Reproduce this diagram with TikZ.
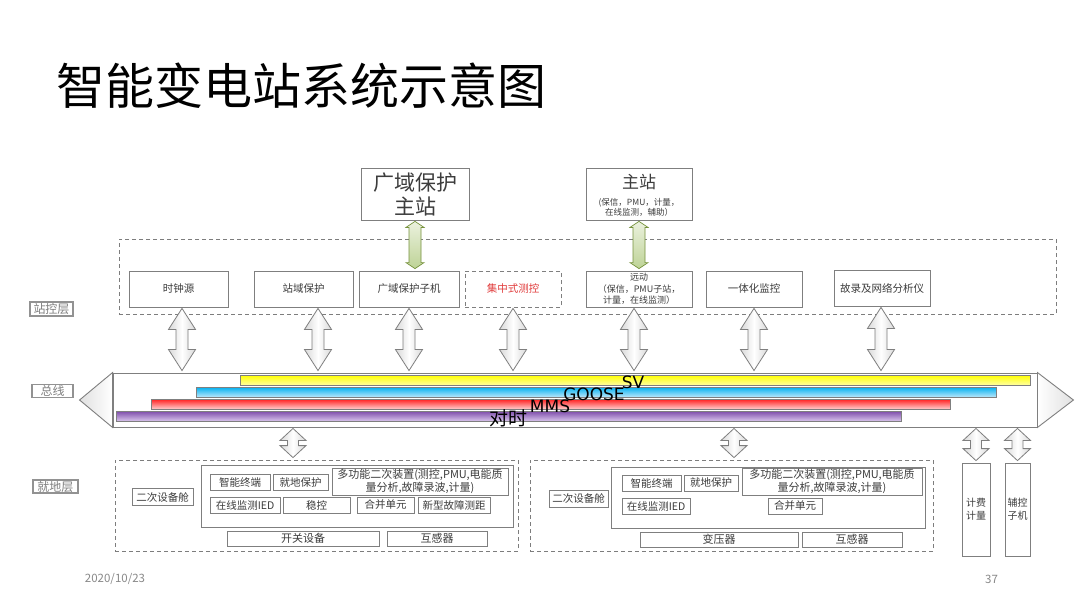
\documentclass[tikz,border=0pt]{standalone}
\usepackage{fontspec}
\setmainfont{Noto Sans CJK SC}
\newfontfamily\latinfont{DejaVu Sans}
\usepackage{tikz}
\usetikzlibrary{calc, positioning}
\definecolor{myline}{RGB}{127,127,127}
\definecolor{mytext}{RGB}{60,60,60}
\definecolor{mydash}{RGB}{125,125,125}
\definecolor{myred}{RGB}{225,60,60}
\definecolor{mydate}{RGB}{137,137,137}
\definecolor{grnline}{RGB}{118,146,60}
\definecolor{grntop}{RGB}{235,241,222}
\definecolor{grnbot}{RGB}{190,211,150}
\definecolor{svtop}{RGB}{255,255,0}
\definecolor{svbot}{RGB}{255,255,160}
\definecolor{gstop}{RGB}{0,176,240}
\definecolor{gsbot}{RGB}{185,230,250}
\definecolor{mmtop}{RGB}{255,30,30}
\definecolor{mmbot}{RGB}{255,205,205}
\definecolor{dstop}{RGB}{125,75,170}
\definecolor{dsbot}{RGB}{215,195,235}
\tikzset{
  box/.style={rectangle, draw=myline, fill=white, line width=0.8pt,
    align=center, inner sep=0pt, text=mytext,
    font=\fontsize{10.5}{12.5}\selectfont},
  dashbox/.style={rectangle, draw=mydash, dash pattern=on 4pt off 3pt,
    line width=0.8pt, inner sep=0pt},
  layer/.style={rectangle, draw=myline!85, line width=1.2pt, inner sep=0.5pt,
    text=myline, font=\fontsize{12}{12}\selectfont},
  bar/.style={rectangle, draw=myline, line width=0.5pt, inner sep=0pt},
  buslabel/.style={inner sep=0pt, text=black, font=\latinfont\fontsize{17}{17}\selectfont},
  grayarrow/.style={draw=myline, line width=0.8pt,
    left color=black!15, right color=black!15, middle color=white},
  greenarrow/.style={draw=grnline, line width=0.7pt,
    top color=grntop, bottom color=grnbot}
}
% vertical double block arrow: [style]{top}{bottom}{head half width}{shaft half width}{head length}
\newcommand{\dblarrow}[6][grayarrow]{%
  \path[#1] let \p1=(#2), \p2=(#3) in
    (\x1,\y1-1pt) -- (\x1+#4pt,\y1-1pt-#6pt) -- (\x1+#5pt,\y1-1pt-#6pt)
    -- (\x1+#5pt,\y2+2pt+#6pt) -- (\x1+#4pt,\y2+2pt+#6pt) -- (\x1,\y2+2pt)
    -- (\x1-#4pt,\y2+2pt+#6pt) -- (\x1-#5pt,\y2+2pt+#6pt)
    -- (\x1-#5pt,\y1-1pt-#6pt) -- (\x1-#4pt,\y1-1pt-#6pt) -- cycle;}

\begin{document}
\begin{tikzpicture}[x=1pt, y=-1pt]
  \useasboundingbox (0,0) rectangle (1080,608);
  \fill[white] (0,0) rectangle (1080,608);

  % Title
  \node[anchor=west, inner sep=0pt, font=\fontsize{49}{52}\selectfont] (title) at (56,86) {智能变电站系统示意图};

  % Master stations
  \node[box, minimum width=108, minimum height=52, font=\fontsize{21}{24}\selectfont] (gzz) at (415,194) {广域保护\\主站};
  \node[box, minimum width=106, minimum height=52] (zz) at (639,194) {};
  \node[text=mytext, inner sep=0pt, font=\fontsize{17}{20}\selectfont] (zzt) at (639,182) {主站};
  \node[text=mytext, inner sep=0pt, align=center, font=\fontsize{8.5}{10}\selectfont] (zzs) at (639,207) {(保信，PMU，计量，\\在线监测，辅助）};

  % Station control layer
  \node[dashbox, minimum width=937, minimum height=75] (zk) at (587.5,276.5) {};
  \node[box, minimum width=99, minimum height=36] (sz) at (178.5,289) {时钟源};
  \node[box, minimum width=99, minimum height=36] (zy) at (303.5,289) {站域保护};
  \node[box, minimum width=100, minimum height=36] (zj) at (409,289) {广域保护子机};
  \node[box, dash pattern=on 4pt off 3pt, text=myred, minimum width=96, minimum height=36] (jz) at (513,289) {集中式测控};
  \node[box, minimum width=106, minimum height=36, font=\fontsize{9}{11.5}\selectfont] (yd) at (639,289) {远动\\（保信，PMU子站，\\计量，在线监测）};
  \node[box, minimum width=96, minimum height=36] (yt) at (754,289) {一体化监控};
  \node[box, minimum width=96, minimum height=36] (gl) at (882,288) {故录及网络分析仪};

  \dblarrow[greenarrow]{gzz.south}{zj.north}{9}{6}{6}
  \dblarrow[greenarrow]{zz.south}{yd.north}{9}{6}{6}

  % Bus
  \node[rectangle, draw=myline, fill=white, line width=0.9pt, minimum width=924, minimum height=54] (bus) at (575,400) {};
  \draw[myline, line width=0.9pt, left color=black!12, right color=white] (bus.north west) -- ($(bus.west)+(-33,0)$) -- (bus.south west) -- cycle;
  \draw[myline, line width=0.9pt, left color=white, right color=black!12] (bus.north east) -- ($(bus.east)+(36,0)$) -- (bus.south east) -- cycle;
  \node[bar, top color=svtop, bottom color=svbot, minimum width=790, minimum height=10] (sv) at (635,380) {};
  \node[bar, top color=gstop, bottom color=gsbot, minimum width=800, minimum height=10] (goose) at (596,392) {};
  \node[bar, top color=mmtop, bottom color=mmbot, minimum width=799, minimum height=10] (mms) at (550.5,404) {};
  \node[bar, top color=dstop, bottom color=dsbot, minimum width=785, minimum height=10] (ds) at (508.5,416) {};
  \node[buslabel] (svt) at (633,382) {SV};
  \node[buslabel] (gst) at (594,394) {GOOSE};
  \node[buslabel] (mmt) at (550,406) {MMS};
  \node[inner sep=0pt, font=\fontsize{19}{19}\selectfont] (dst) at (508,418) {对时};

  \foreach \nd/\dx in {sz/3.5, zy/14.5, zj/0, jz/0, yd/-5, yt/0, gl/-1}
    \dblarrow{$(\nd.south)+(\dx,0)$}{bus.north}{13.5}{6}{21};

  % Layer labels
  \node[layer, minimum width=43, minimum height=14] (zkc) at (51.5,309) {站控层};
  \node[layer, minimum width=41, minimum height=13] (zxl) at (52.5,391) {总线};
  \node[layer, minimum width=45, minimum height=13] (jdc) at (55.5,486.5) {就地层};

  % Process layer, switchgear
  \node[dashbox, minimum width=403, minimum height=91] (lf) at (316.5,505.5) {};
  \node[box, minimum width=61, minimum height=17] (ec1) at (162.5,497) {二次设备舱};
  \node[box, minimum width=312, minimum height=62] (lc) at (357,496) {};
  \node[box, minimum width=60, minimum height=16] (zn1) at (240,482.5) {智能终端};
  \node[box, minimum width=55, minimum height=16] (jd1) at (300.5,482.5) {就地保护};
  \node[box, minimum width=176, minimum height=27, font=\fontsize{11}{12.5}\selectfont] (dg1) at (420,481.5) {多功能二次装置(测控,PMU,电能质\\量分析,故障录波,计量)};
  \node[box, minimum width=70, minimum height=16] (zx1) at (245,505) {在线监测IED};
  \node[box, minimum width=67, minimum height=16] (wk) at (316.5,505) {稳控};
  \node[box, minimum width=57, minimum height=16] (hb1) at (385.5,505) {合并单元};
  \node[box, minimum width=72, minimum height=16] (xx) at (454,505) {新型故障测距};
  \node[box, minimum width=152, minimum height=15, font=\fontsize{11}{12}\selectfont] (kg) at (303,538.5) {开关设备};
  \node[box, minimum width=100, minimum height=15, font=\fontsize{11}{12}\selectfont] (hg1) at (437,538.5) {互感器};

  % Process layer, transformer
  \node[dashbox, minimum width=403, minimum height=91] (rf) at (731.5,505.5) {};
  \node[box, minimum width=59, minimum height=17] (ec2) at (578.5,498.5) {二次设备舱};
  \node[box, minimum width=314, minimum height=61] (rc) at (768,497.5) {};
  \node[box, minimum width=59, minimum height=16] (zn2) at (651.5,483) {智能终端};
  \node[box, minimum width=54, minimum height=16] (jd2) at (711,483) {就地保护};
  \node[box, minimum width=180, minimum height=27, font=\fontsize{11}{12.5}\selectfont] (dg2) at (832,481.5) {多功能二次装置(测控,PMU,电能质\\量分析,故障录波,计量)};
  \node[box, minimum width=68, minimum height=16] (zx2) at (656,506) {在线监测IED};
  \node[box, minimum width=54, minimum height=16] (hb2) at (795,506) {合并单元};
  \node[box, minimum width=158, minimum height=15, font=\fontsize{11}{12}\selectfont] (byq) at (719,539.5) {变压器};
  \node[box, minimum width=100, minimum height=15, font=\fontsize{11}{12}\selectfont] (hg2) at (852,539.5) {互感器};

  % Metering and auxiliary
  \node[box, minimum width=28, minimum height=93, font=\fontsize{10}{13}\selectfont] (jf) at (976,509.5) {计费\\计量};
  \node[box, minimum width=25, minimum height=93, font=\fontsize{10}{13}\selectfont] (fk) at (1017.5,509.5) {辅控\\子机};

  \dblarrow{$(bus.south)+(-282,0)$}{lf.north}{13}{5.5}{12}
  \dblarrow{$(bus.south)+(159,0)$}{rf.north}{13}{5.5}{12}
  \dblarrow{jf.north |- bus.south}{jf.north}{13}{5.5}{12}
  \dblarrow{fk.north |- bus.south}{fk.north}{13}{5.5}{12}

  % Footer
  \node[text=mydate, inner sep=0pt, font=\fontsize{11.5}{12}\selectfont] (date) at (115,579) {2020/10/23};
  \node[text=mydate, inner sep=0pt, font=\fontsize{11.5}{12}\selectfont] (page) at (991.5,579) {37};
\end{tikzpicture}
\end{document}
